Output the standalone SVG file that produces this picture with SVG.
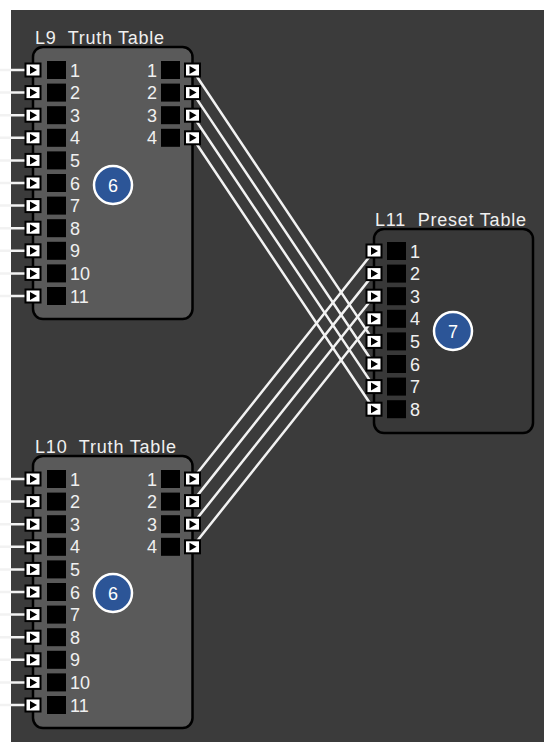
<svg xmlns="http://www.w3.org/2000/svg" xmlns:xlink="http://www.w3.org/1999/xlink" width="544" height="742" viewBox="0 0 544 742">
<style>
.bg{fill:#3b3b3b}
.nodeA{fill:#5a5a5a;stroke:#000;stroke-width:2.5}
.nodeB{fill:#383838;stroke:#000;stroke-width:2.5}
text{font-family:"Liberation Sans",Arial,sans-serif;fill:#f0f0f0}
.lbl{font-size:18px}
.ttl{font-size:18px}
.r{text-anchor:end}
.badge circle{fill:#2c5597;stroke:#fff;stroke-width:2.5}
.badge text{font-size:18px;text-anchor:middle;fill:#fff}
.wire{stroke:#f2f2f2;stroke-width:2.5;fill:none}
</style>
<defs>
<g id="pin"><rect x="-8.5" y="-7.5" width="17" height="15" fill="#000"/><rect x="-6.5" y="-5.5" width="13" height="11" fill="#fff"/><path d="M-3,-4 L4,0 L-3,4Z" fill="#000"/></g>
<rect id="cell" x="0" y="-9" width="19" height="18" fill="#000"/>
</defs>
<rect class="bg" x="11" y="10" width="533" height="732"/>

<g id="connectors">
<g class="wire">
<path d="M0,70H33M0,92.6H33M0,115.2H33M0,137.8H33M0,160.4H33M0,183H33M0,205.6H33M0,228.2H33M0,250.8H33M0,273.4H33M0,296H33"/>
<path d="M0,479H33M0,501.6H33M0,524.2H33M0,546.8H33M0,569.4H33M0,592H33M0,614.6H33M0,637.2H33M0,659.8H33M0,682.4H33M0,705H33"/>
<path d="M192.5,70L374,341.4M192.5,92.6L374,364M192.5,115.2L374,386.6M192.5,137.8L374,409.2"/>
<path d="M192.5,479L374,251M192.5,501.6L374,273.6M192.5,524.2L374,296.2M192.5,546.8L374,318.8"/>
</g>
</g>

<g id="L9">
<text class="ttl" x="35" y="44" textLength="129" lengthAdjust="spacing">L9&#160; Truth Table</text>
<rect class="nodeA" x="33" y="47" width="159.5" height="272" rx="10"/>
<use href="#pin" x="33" y="70"/><use href="#pin" x="33" y="92.6"/><use href="#pin" x="33" y="115.2"/><use href="#pin" x="33" y="137.8"/><use href="#pin" x="33" y="160.4"/><use href="#pin" x="33" y="183"/><use href="#pin" x="33" y="205.6"/><use href="#pin" x="33" y="228.2"/><use href="#pin" x="33" y="250.8"/><use href="#pin" x="33" y="273.4"/><use href="#pin" x="33" y="296"/>
<use href="#cell" x="47" y="70"/><use href="#cell" x="47" y="92.6"/><use href="#cell" x="47" y="115.2"/><use href="#cell" x="47" y="137.8"/><use href="#cell" x="47" y="160.4"/><use href="#cell" x="47" y="183"/><use href="#cell" x="47" y="205.6"/><use href="#cell" x="47" y="228.2"/><use href="#cell" x="47" y="250.8"/><use href="#cell" x="47" y="273.4"/><use href="#cell" x="47" y="296"/>
<text class="lbl" x="70" y="76.5">1</text><text class="lbl" x="70" y="99.1">2</text><text class="lbl" x="70" y="121.7">3</text><text class="lbl" x="70" y="144.3">4</text><text class="lbl" x="70" y="166.9">5</text><text class="lbl" x="70" y="189.5">6</text><text class="lbl" x="70" y="212.1">7</text><text class="lbl" x="70" y="234.7">8</text><text class="lbl" x="70" y="257.3">9</text><text class="lbl" x="70" y="279.9">10</text><text class="lbl" x="70" y="302.5">11</text>
<use href="#cell" x="161" y="70"/><use href="#cell" x="161" y="92.6"/><use href="#cell" x="161" y="115.2"/><use href="#cell" x="161" y="137.8"/>
<use href="#pin" x="192.5" y="70"/><use href="#pin" x="192.5" y="92.6"/><use href="#pin" x="192.5" y="115.2"/><use href="#pin" x="192.5" y="137.8"/>
<text class="lbl r" x="157" y="76.5">1</text><text class="lbl r" x="157" y="99.1">2</text><text class="lbl r" x="157" y="121.7">3</text><text class="lbl r" x="157" y="144.3">4</text>
<g class="badge"><circle cx="113" cy="185" r="19"/><text x="113" y="191.5">6</text></g>
</g>

<g id="L10">
<text class="ttl" x="35" y="453" textLength="141" lengthAdjust="spacing">L10&#160; Truth Table</text>
<rect class="nodeA" x="33" y="456" width="159.5" height="272" rx="10"/>
<use href="#pin" x="33" y="479"/><use href="#pin" x="33" y="501.6"/><use href="#pin" x="33" y="524.2"/><use href="#pin" x="33" y="546.8"/><use href="#pin" x="33" y="569.4"/><use href="#pin" x="33" y="592"/><use href="#pin" x="33" y="614.6"/><use href="#pin" x="33" y="637.2"/><use href="#pin" x="33" y="659.8"/><use href="#pin" x="33" y="682.4"/><use href="#pin" x="33" y="705"/>
<use href="#cell" x="47" y="479"/><use href="#cell" x="47" y="501.6"/><use href="#cell" x="47" y="524.2"/><use href="#cell" x="47" y="546.8"/><use href="#cell" x="47" y="569.4"/><use href="#cell" x="47" y="592"/><use href="#cell" x="47" y="614.6"/><use href="#cell" x="47" y="637.2"/><use href="#cell" x="47" y="659.8"/><use href="#cell" x="47" y="682.4"/><use href="#cell" x="47" y="705"/>
<text class="lbl" x="70" y="485.5">1</text><text class="lbl" x="70" y="508.1">2</text><text class="lbl" x="70" y="530.7">3</text><text class="lbl" x="70" y="553.3">4</text><text class="lbl" x="70" y="575.9">5</text><text class="lbl" x="70" y="598.5">6</text><text class="lbl" x="70" y="621.1">7</text><text class="lbl" x="70" y="643.7">8</text><text class="lbl" x="70" y="666.3">9</text><text class="lbl" x="70" y="688.9">10</text><text class="lbl" x="70" y="711.5">11</text>
<use href="#cell" x="161" y="479"/><use href="#cell" x="161" y="501.6"/><use href="#cell" x="161" y="524.2"/><use href="#cell" x="161" y="546.8"/>
<use href="#pin" x="192.5" y="479"/><use href="#pin" x="192.5" y="501.6"/><use href="#pin" x="192.5" y="524.2"/><use href="#pin" x="192.5" y="546.8"/>
<text class="lbl r" x="157" y="485.5">1</text><text class="lbl r" x="157" y="508.1">2</text><text class="lbl r" x="157" y="530.7">3</text><text class="lbl r" x="157" y="553.3">4</text>
<g class="badge"><circle cx="113" cy="593" r="19"/><text x="113" y="599.5">6</text></g>
</g>

<g id="L11">
<text class="ttl" x="375" y="226" textLength="151" lengthAdjust="spacing">L11&#160; Preset Table</text>
<rect class="nodeB" x="374" y="229" width="159" height="204" rx="10"/>
<use href="#pin" x="374" y="251"/><use href="#pin" x="374" y="273.6"/><use href="#pin" x="374" y="296.2"/><use href="#pin" x="374" y="318.8"/><use href="#pin" x="374" y="341.4"/><use href="#pin" x="374" y="364"/><use href="#pin" x="374" y="386.6"/><use href="#pin" x="374" y="409.2"/>
<use href="#cell" x="387" y="251"/><use href="#cell" x="387" y="273.6"/><use href="#cell" x="387" y="296.2"/><use href="#cell" x="387" y="318.8"/><use href="#cell" x="387" y="341.4"/><use href="#cell" x="387" y="364"/><use href="#cell" x="387" y="386.6"/><use href="#cell" x="387" y="409.2"/>
<text class="lbl" x="410" y="257.5">1</text><text class="lbl" x="410" y="280.1">2</text><text class="lbl" x="410" y="302.7">3</text><text class="lbl" x="410" y="325.3">4</text><text class="lbl" x="410" y="347.9">5</text><text class="lbl" x="410" y="370.5">6</text><text class="lbl" x="410" y="393.1">7</text><text class="lbl" x="410" y="415.7">8</text>
<g class="badge"><circle cx="453" cy="331" r="19"/><text x="453" y="337.5">7</text></g>
</g>
</svg>
